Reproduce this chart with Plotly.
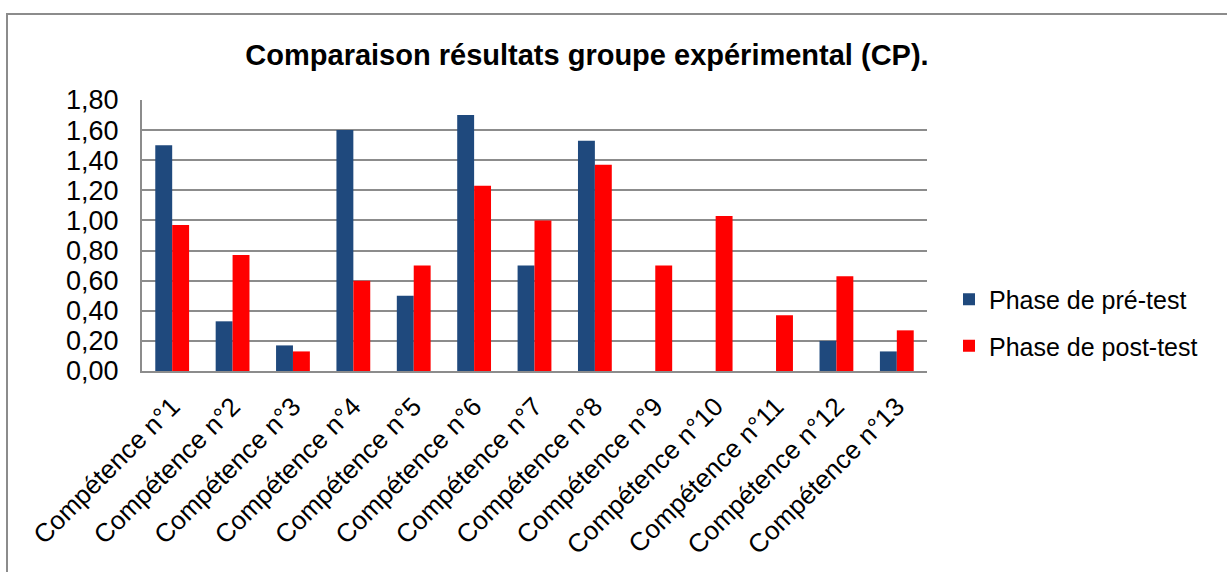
import plotly.graph_objects as go

categories = [f"Compétence n°{i}" for i in range(1, 14)]
pre_test = [1.50, 0.33, 0.17, 1.60, 0.50, 1.70, 0.70, 1.53, 0.00, 0.00, 0.00, 0.20, 0.13]
post_test = [0.97, 0.77, 0.13, 0.60, 0.70, 1.23, 1.00, 1.37, 0.70, 1.03, 0.37, 0.63, 0.27]
series_names = ["Phase de pré-test", "Phase de post-test"]
tick_vals = [0.0, 0.2, 0.4, 0.6, 0.8, 1.0, 1.2, 1.4, 1.6, 1.8]
tick_text = ["0,00", "0,20", "0,40", "0,60", "0,80", "1,00", "1,20", "1,40", "1,60", "1,80"]
title_text = "Comparaison résultats groupe expérimental (CP)."

W, H = 1227, 572
L, R, T, B = 142, 300, 100, 198
pw, ph = W - L - R, H - T - B

def px_x(x):
    return (x - L) / pw

def px_y(y):
    return (H - B - y) / ph

FONT = "Liberation Sans, Arial, sans-serif"

fig = go.Figure()
fig.add_trace(go.Bar(x=categories, y=pre_test, name=series_names[0],
                     marker=dict(color="#1F497D", line=dict(width=0)),
                     legendgroup="a"))
fig.add_trace(go.Bar(x=categories, y=post_test, name=series_names[1],
                     marker=dict(color="#FF0000", line=dict(width=0)),
                     legendgroup="b"))

fig.update_layout(
    width=W, height=H,
    margin=dict(l=L, r=R, t=T, b=B, pad=0),
    paper_bgcolor="white", plot_bgcolor="white",
    barmode="group", bargap=0.44, bargroupgap=0,
    font=dict(family=FONT, size=25, color="black"),
    title=dict(text="<b>" + title_text + "</b>", x=587 / W, xanchor="center",
               y=1 - 55 / H, yanchor="middle",
               font=dict(family=FONT, size=29, color="black")),
    showlegend=True,
    legend=dict(x=px_x(949), xanchor="left", y=px_y(325), yanchor="middle",
                font=dict(family=FONT, size=25, color="black"),
                tracegroupgap=11, bgcolor="rgba(0,0,0,0)", itemwidth=30),
    xaxis=dict(type="category", tickangle=-45, showgrid=False,
               showline=True, linecolor="#8c8c8c", linewidth=2,
               ticks="", ticklabelstandoff=8,
               tickfont=dict(family=FONT, size=26, color="black"),
               range=[-0.5, 12.5]),
    yaxis=dict(range=[0, 1.8], tickvals=tick_vals, ticktext=tick_text,
               showgrid=True, gridcolor="#8c8c8c", gridwidth=2,
               showline=True, linecolor="#8c8c8c", linewidth=2,
               ticks="", ticklen=0, ticklabelstandoff=16,
               tickfont=dict(family=FONT, size=27, color="black"),
               zeroline=False),
    shapes=[
        dict(type="rect", xref="paper", yref="paper",
             x0=px_x(7), x1=px_x(1240), y0=px_y(600), y1=px_y(13),
             line=dict(color="#8c8c8c", width=2), fillcolor="rgba(0,0,0,0)", layer="below"),
    ],
)

fig.write_html("out.html", config={"displayModeBar": False},
               post_script="document.body.style.margin='0';")
